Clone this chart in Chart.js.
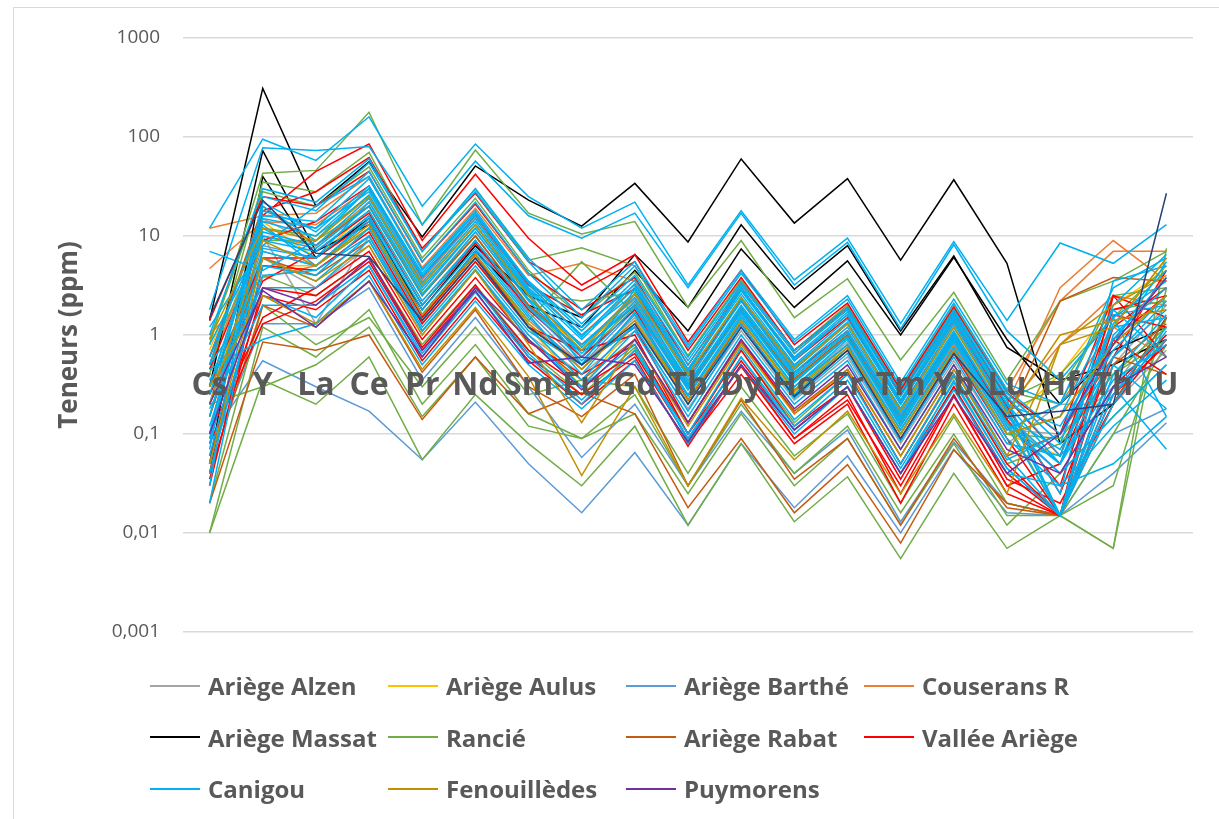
<!DOCTYPE html>
<html>
<head>
<meta charset="utf-8">
<script src="https://cdn.jsdelivr.net/npm/chart.js@4.4.1/dist/chart.umd.min.js"></script>
<style>
  body { margin: 0; background: #fff; width: 1219px; height: 819px; overflow: hidden; position: relative; font-family: "Open Sans", sans-serif; }
  #frame { position: absolute; left: 13px; top: 7px; width: 1230px; height: 840px; border: 1px solid #d9d9d9; box-sizing: border-box; }
  #c { position: absolute; left: 0; top: 0; }
  #legend { position: absolute; left: 150px; top: 660px; display: grid; grid-template-columns: repeat(4, 238px); }
  .item { display: flex; align-items: center; height: 51.5px; font-weight: 700; font-size: 24px; color: #595959; white-space: nowrap; }
  .sw { display: inline-block; width: 50px; height: 2px; margin-right: 8px; }
</style>
</head>
<body>
<div id="frame"></div>
<canvas id="c" width="1219" height="819"></canvas>
<div id="legend"></div>
<script>
// Éléments (axe X) et graduations (axe Y log)
const elements = ['Cs', 'Y', 'La', 'Ce', 'Pr', 'Nd', 'Sm', 'Eu', 'Gd', 'Tb', 'Dy', 'Ho', 'Er', 'Tm', 'Yb', 'Lu', 'Hf', 'Th', 'U'];
const yTicks = [0.001, 0.01, 0.1, 1, 10, 100, 1000];

// Teneurs (ppm) par secteur, un tableau par échantillon
const alzen = [
  [0.2, 6, 3, 8, 1, 4.5, 1, 0.4, 1.1, 0.18, 1.1, 0.22, 0.6, 0.08, 0.55, 0.08, 0.2, 0.2, 0.7],
  [0.1, 10, 1.3, 10, 1.3, 5.5, 1.3, 0.5, 1.5, 0.22, 1.5, 0.3, 0.85, 0.11, 0.8, 0.11, 0.1, 0.3, 1.5],
  [0.4, 15, 8, 20, 2.5, 10, 2, 0.8, 2.1, 0.3, 1.9, 0.38, 1.05, 0.14, 1, 0.14, 0.05, 0.5, 2]
];
const aulus = [
  [0.3, 5, 5, 12, 1.5, 6.5, 1.2, 0.3, 1.3, 0.2, 1.3, 0.26, 0.7, 0.1, 0.7, 0.1, 0.06, 1.2, 6],
  [0.7, 14, 6, 18, 2.2, 9, 1.8, 0.8, 1.9, 0.28, 1.8, 0.36, 1.0, 0.13, 0.95, 0.13, 0.4, 2, 4.5]
];
const barthe = [
  [0.09, 0.55, 0.3, 0.17, 0.055, 0.21, 0.05, 0.016, 0.065, 0.012, 0.08, 0.018, 0.06, 0.01, 0.07, 0.016, 0.015, 0.04, 0.13],
  [0.06, 1.3, 1.3, 3, 0.35, 1.5, 0.3, 0.058, 0.2, 0.03, 0.17, 0.04, 0.11, 0.013, 0.083, 0.02, 0.015, 0.1, 0.18],
  [0.15, 8, 6, 16, 2, 8, 1.7, 0.5, 1.8, 0.28, 1.7, 0.34, 0.95, 0.13, 0.9, 0.12, 0.04, 0.3, 1.0]
];
const couserans = [
  [12, 16, 17, 40, 4.8, 19, 4, 5.3, 3.5, 0.45, 3, 0.58, 1.6, 0.22, 1.6, 0.2, 3, 9, 3.5],
  [4.7, 14, 13, 30, 3.6, 15, 3.2, 1, 3, 0.42, 3.3, 0.65, 1.9, 0.28, 2, 0.28, 2.2, 7, 7],
  [1, 3.8, 5, 12, 1.4, 6, 1.4, 0.5, 1.4, 0.2, 1.4, 0.28, 0.8, 0.11, 0.8, 0.11, 0.2, 1.2, 0.6],
  [0.5, 10, 8, 22, 2.6, 11, 2.3, 0.8, 2.3, 0.34, 2.3, 0.46, 1.3, 0.18, 1.3, 0.18, 0.8, 2.5, 2]
];
const massat = [
  [1.4, 310, 20, 56, 9.8, 51, 23, 12.6, 34, 8.7, 60, 13.5, 38, 5.7, 37, 5.3, 0.08, 0.2, 1.5],
  [0.3, 73, 7, 13, 1.8, 8, 2.5, 1.5, 6.5, 1.9, 13, 2.9, 8, 1.1, 6.3, 0.75, 0.35, 0.5, 0.9],
  [0.05, 40, 6, 15, 1.6, 7, 2, 1.2, 4.5, 1.1, 7.4, 1.9, 5.6, 1.0, 6.1, 0.9, 0.2, 0.7, 1.2]
];
const rancie = [
  [0.8, 43, 46, 178, 13, 74, 17, 10.5, 14, 1.9, 9, 1.5, 3.7, 0.56, 2.7, 0.35, 2.2, 3.5, 7],
  [0.4, 35, 28, 70, 7, 30, 5.7, 7.6, 5, 0.6, 3.5, 0.7, 1.8, 0.25, 1.6, 0.22, 0.4, 1.5, 5],
  [0.01, 0.35, 0.2, 0.6, 0.055, 0.25, 0.08, 0.03, 0.12, 0.012, 0.08, 0.013, 0.037, 0.0055, 0.04, 0.007, 0.015, 0.007, 3],
  [0.01, 1.2, 0.6, 1.8, 0.2, 0.8, 0.16, 0.09, 0.25, 0.03, 0.2, 0.04, 0.12, 0.016, 0.1, 0.015, 0.015, 0.03, 1.5],
  [0.02, 2, 0.8, 1.5, 0.3, 1.2, 0.25, 0.35, 0.3, 0.04, 0.3, 0.06, 0.16, 0.02, 0.15, 0.02, 0.015, 0.007, 7.5],
  [0.3, 12, 10, 25, 3.2, 13, 2.6, 2.2, 2.7, 0.4, 2.4, 0.45, 1.3, 0.17, 1.2, 0.17, 0.3, 1.8, 2.2],
  [0.15, 7, 5, 12, 1.6, 6.5, 1.4, 5.5, 1.6, 0.22, 1.4, 0.28, 0.8, 0.1, 0.75, 0.1, 0.09, 0.4, 1.2],
  [0.9, 28, 20, 50, 6, 24, 4.5, 1.5, 4.3, 0.62, 3.6, 0.7, 2, 0.27, 1.9, 0.27, 0.2, 2.5, 3],
  [0.05, 4, 2.5, 6, 0.8, 3.2, 0.7, 0.25, 0.75, 0.1, 0.7, 0.13, 0.4, 0.05, 0.38, 0.05, 0.08, 0.4, 0.9],
  [0.2, 0.3, 0.5, 1.2, 0.15, 0.6, 0.12, 0.09, 0.16, 0.025, 0.16, 0.03, 0.09, 0.012, 0.08, 0.012, 0.04, 0.15, 0.5],
  [0.6, 9, 9, 20, 2.6, 10, 2, 0.6, 2, 0.3, 1.8, 0.35, 1, 0.13, 0.95, 0.13, 0.015, 0.1, 0.8]
];
const rabat = [
  [0.02, 0.85, 0.7, 1.0, 0.14, 0.6, 0.16, 0.26, 0.16, 0.018, 0.09, 0.016, 0.049, 0.0079, 0.069, 0.02, 0.015, 0.2, 1.5],
  [0.04, 2, 1.2, 3.5, 0.42, 1.8, 0.3, 0.15, 0.4, 0.03, 0.22, 0.035, 0.09, 0.012, 0.09, 0.018, 0.015, 0.5, 1.3],
  [0.5, 20, 8, 20, 2.5, 10, 2, 0.7, 2, 0.3, 1.8, 0.36, 1, 0.14, 1, 0.14, 2.2, 3.8, 3.5],
  [0.15, 6, 4, 9, 1.1, 4.5, 0.9, 0.35, 0.9, 0.13, 0.85, 0.17, 0.45, 0.06, 0.45, 0.06, 0.1, 0.6, 0.4]
];
const vallee = [
  [0.6, 16, 45, 85, 9, 42, 9.5, 3.2, 6.5, 0.85, 4.5, 0.8, 2.1, 0.28, 1.9, 0.26, 0.1, 2.5, 1.5],
  [0.04, 18, 28, 62, 7.5, 27, 5.5, 2.8, 5.5, 0.7, 3.8, 0.7, 1.9, 0.25, 1.7, 0.23, 0.06, 1.8, 2.5],
  [0.25, 3.5, 7, 17, 2, 8.5, 1.8, 0.6, 1.8, 0.22, 1.3, 0.24, 0.7, 0.09, 0.65, 0.09, 0.015, 0.3, 1],
  [0.1, 1.5, 3, 7, 0.9, 3.8, 0.85, 0.4, 0.8, 0.1, 0.55, 0.11, 0.3, 0.04, 0.3, 0.04, 0.015, 2.5, 0.6],
  [0.08, 1.3, 2.2, 5.5, 0.7, 3, 0.7, 0.3, 0.65, 0.09, 0.48, 0.09, 0.22, 0.03, 0.25, 0.03, 0.05, 0.9, 0.4],
  [0.45, 9, 14, 32, 3.8, 16, 3.2, 1.6, 2.9, 0.38, 2.2, 0.42, 1.1, 0.15, 1.0, 0.14, 0.03, 1.2, 3],
  [0.03, 5, 4.5, 11, 1.3, 5.5, 1.2, 0.5, 1.2, 0.13, 0.9, 0.16, 0.42, 0.05, 0.4, 0.05, 0.015, 1.6, 1.2],
  [1.4, 25, 20, 45, 5.5, 21, 4.2, 1.8, 3.8, 0.5, 3, 0.55, 1.5, 0.2, 1.4, 0.19, 0.025, 0.6, 4.5],
  [0.06, 2.5, 1.8, 4.5, 0.55, 2.4, 0.55, 0.2, 0.55, 0.08, 0.4, 0.08, 0.2, 0.02, 0.2, 0.025, 0.015, 0.25, 0.8],
  [0.035, 3, 2.5, 6, 0.75, 3.2, 0.6, 0.25, 0.6, 0.075, 0.5, 0.09, 0.25, 0.025, 0.24, 0.03, 0.015, 0.9, 2.5],
  [0.3, 6, 6, 14, 1.5, 6.5, 1.2, 0.7, 1.0, 0.1, 0.7, 0.12, 0.3, 0.035, 0.3, 0.035, 0.02, 0.2, 0.9]
];
const canigou = [
  [12, 95, 58, 160, 20, 85, 25, 12, 22, 3.2, 18, 3.6, 9.5, 1.3, 8.8, 1.4, 8.5, 5.3, 13],
  [1.8, 78, 73, 80, 13, 57, 16, 9.5, 17, 3.0, 17, 3.2, 8.6, 1.15, 8.2, 1.1, 0.35, 1.5, 3.5],
  [7, 4.5, 9, 30, 4, 16, 3.5, 1.2, 3.2, 0.45, 2.8, 0.55, 1.6, 0.2, 1.5, 0.2, 0.05, 0.6, 2.2],
  [0.5, 18, 12, 38, 4.6, 18, 3.4, 1.1, 3.6, 0.55, 3.2, 0.65, 1.8, 0.24, 1.7, 0.24, 0.06, 1.3, 4.5],
  [0.3, 14, 10, 30, 3.8, 15, 2.9, 0.9, 3.0, 0.45, 2.6, 0.5, 1.45, 0.2, 1.4, 0.2, 0.12, 0.9, 3.8],
  [0.15, 12, 6, 22, 2.8, 12, 2.5, 0.6, 2.6, 0.4, 2.3, 0.45, 1.3, 0.17, 1.2, 0.17, 0.015, 0.25, 1.2],
  [0.8, 9, 7, 18, 2.2, 9, 1.9, 0.7, 2.0, 0.3, 1.9, 0.38, 1.05, 0.14, 1.0, 0.13, 0.04, 0.15, 0.5],
  [0.06, 7, 5, 15, 1.8, 7.5, 1.6, 0.4, 1.7, 0.25, 1.6, 0.3, 0.9, 0.12, 0.85, 0.11, 0.2, 0.8, 5.5],
  [0.1, 20, 9, 26, 3.2, 13, 2.7, 0.5, 2.9, 0.42, 2.9, 0.6, 1.7, 0.22, 1.6, 0.22, 0.015, 0.4, 1.6],
  [0.04, 5, 4, 12, 1.4, 6, 1.2, 0.35, 1.3, 0.2, 1.3, 0.25, 0.75, 0.1, 0.7, 0.09, 0.03, 0.12, 0.35],
  [0.2, 16, 14, 45, 5.5, 22, 4.2, 1.3, 4.0, 0.6, 3.4, 0.7, 1.9, 0.26, 1.8, 0.26, 0.08, 2.0, 6.5],
  [0.5, 3, 3, 9, 1.1, 4.5, 1.0, 0.3, 1.1, 0.15, 1.0, 0.2, 0.55, 0.07, 0.5, 0.06, 0.015, 0.3, 0.07],
  [0.08, 11, 8, 24, 3.0, 12, 2.3, 0.8, 2.4, 0.35, 2.2, 0.42, 1.2, 0.16, 1.1, 0.15, 0.05, 1.5, 0.15],
  [0.35, 2.5, 1.5, 5, 0.6, 2.7, 0.6, 0.2, 0.7, 0.09, 0.6, 0.12, 0.35, 0.045, 0.33, 0.045, 0.015, 0.2, 1.1],
  [0.03, 25, 18, 55, 7, 28, 5.5, 1.5, 5, 0.75, 4.2, 0.85, 2.3, 0.3, 2.1, 0.28, 0.1, 0.7, 2.5],
  [1.2, 8, 20, 40, 4.5, 17, 3, 1.0, 2.6, 0.32, 1.8, 0.34, 0.95, 0.12, 0.9, 0.12, 0.015, 0.5, 0.18],
  [0.12, 6, 3.5, 10, 1.2, 5, 1.1, 0.5, 1.2, 0.17, 1.2, 0.23, 0.65, 0.085, 0.6, 0.08, 0.06, 0.25, 0.9],
  [0.25, 13, 5, 14, 1.6, 7, 1.5, 0.45, 1.6, 0.24, 1.5, 0.3, 0.8, 0.11, 0.75, 0.1, 0.15, 1.8, 0.6],
  [0.45, 0.9, 1.3, 4, 0.5, 2.2, 0.5, 0.18, 0.55, 0.08, 0.5, 0.1, 0.3, 0.04, 0.28, 0.04, 0.03, 0.05, 0.15],
  [0.07, 22, 11, 32, 4.2, 17, 3.3, 0.95, 3.3, 0.5, 3.0, 0.58, 1.6, 0.21, 1.5, 0.2, 0.025, 3.5, 5],
  [0.05, 4, 4.5, 10, 1.1, 4.6, 0.9, 0.3, 0.8, 0.085, 0.6, 0.11, 0.3, 0.04, 0.35, 0.045, 0.015, 1.6, 2],
  [0.09, 10, 7.5, 20, 2.5, 11, 2.2, 0.65, 2.2, 0.32, 2.0, 0.4, 1.1, 0.15, 1.05, 0.15, 0.07, 0.6, 1.8],
  [0.6, 15, 12, 28, 3.4, 14, 2.8, 0.75, 2.6, 0.38, 2.4, 0.48, 1.35, 0.18, 1.3, 0.18, 0.015, 1.0, 3],
  [0.02, 7.5, 6, 16, 2, 9, 1.9, 0.55, 1.9, 0.28, 1.7, 0.33, 0.95, 0.13, 0.95, 0.13, 0.05, 0.35, 0.8],
  [0.18, 2, 2, 5, 0.65, 3, 0.65, 0.22, 0.7, 0.1, 0.75, 0.14, 0.4, 0.05, 0.4, 0.055, 0.1, 1.2, 1.5],
  [1.0, 30, 22, 60, 7, 30, 6, 1.8, 5.5, 0.8, 4.5, 0.9, 2.5, 0.33, 2.3, 0.32, 0.2, 3, 6]
];
const fenouilledes = [
  [0.3, 2.5, 1.3, 3.5, 0.45, 1.9, 0.38, 0.038, 0.3, 0.03, 0.23, 0.055, 0.17, 0.025, 0.16, 0.025, 0.8, 1.2, 6],
  [0.05, 6, 3.5, 8, 1, 4.5, 0.8, 0.13, 0.9, 0.12, 0.8, 0.16, 0.45, 0.06, 0.45, 0.06, 0.8, 2, 4],
  [0.9, 12, 9, 25, 3.2, 13, 2.5, 0.7, 2.6, 0.4, 2.4, 0.46, 1.3, 0.17, 1.2, 0.16, 1.0, 1.4, 1.8],
  [0.2, 9, 5, 13, 1.6, 6.5, 1.3, 0.45, 1.4, 0.22, 1.4, 0.27, 0.75, 0.1, 0.7, 0.1, 0.15, 0.8, 2.5]
];
const puymorens = [
  [0.1, 3, 2, 6, 0.7, 2.8, 0.52, 0.6, 0.5, 0.083, 0.5, 0.11, 0.3, 0.04, 0.24, 0.04, 0.1, 0.8, 3.8],
  [0.2, 2.8, 1.2, 3.5, 0.6, 3, 0.9, 0.28, 0.9, 0.13, 0.9, 0.18, 0.5, 0.07, 0.5, 0.07, 0.04, 0.3, 0.6]
];
// série sans entrée de légende (trait bleu foncé)
const autres = [
  [1.5, 23, 6.7, 6.2, 1.4, 6, 1.2, 0.5, 1.3, 0.2, 1.2, 0.24, 0.7, 0.09, 0.65, 0.15, 0.17, 0.2, 27]
];

const groupNames = ['Ariège Alzen', 'Ariège Aulus', 'Ariège Barthé', 'Couserans R', 'Ariège Massat', 'Rancié',
  'Ariège Rabat', 'Vallée Ariège', 'Canigou', 'Fenouillèdes', 'Puymorens', ''];
const groupSeries = [alzen, aulus, barthe, couserans, massat, rancie, rabat, vallee, canigou, fenouilledes, puymorens, autres];
const groupColors = ['#a5a5a5', '#ffc000', '#5b9bd5', '#ed7d31', '#000000', '#70ad47',
  '#c55a11', '#ff0000', '#00b0f0', '#bf9000', '#7030a0', '#264478'];

const datasets = [];
groupSeries.forEach((samples, g) => {
  samples.forEach((vals, k) => {
    datasets.push({
      label: groupNames[g],
      data: vals,
      borderColor: groupColors[g],
      borderWidth: 1.5,
      pointRadius: 0,
      tension: 0,
      fill: false,
      inLegend: k === 0 && groupNames[g] !== ''
    });
  });
});
// les dernières séries par-dessus
datasets.forEach((d, i) => { d.order = -i; });

// étiquettes des éléments posées sur la ligne 1 ppm (axe croisant à 1)
const elementLabels = {
  id: 'elementLabels',
  afterDatasetsDraw(chart) {
    const { ctx, scales: { x, y } } = chart;
    const y1 = y.getPixelForValue(1);
    ctx.save();
    ctx.font = 'bold 32px "Open Sans"';
    ctx.fillStyle = '#595959';
    ctx.textAlign = 'center';
    ctx.textBaseline = 'alphabetic';
    elements.forEach((e, i) => ctx.fillText(e, x.getPixelForValue(i), y1 + 60));
    ctx.restore();
  }
};

new Chart(document.getElementById('c').getContext('2d'), {
  type: 'line',
  data: { labels: elements, datasets: datasets },
  options: {
    responsive: false,
    animation: false,
    layout: { padding: { left: 0, right: 26, top: 38, bottom: 187 } },
    plugins: { legend: { display: false }, tooltip: { enabled: false } },
    scales: {
      x: { type: 'category', offset: true, display: false },
      y: {
        type: 'logarithmic',
        min: 0.001,
        max: 1000,
        afterBuildTicks: s => { s.ticks = yTicks.map(v => ({ value: v })); },
        afterFit: s => { s.width = 183; },
        grid: { color: '#d9d9d9', lineWidth: 1.5, drawTicks: false },
        border: { display: false },
        ticks: {
          padding: 23,
          color: '#595959',
          font: { family: 'Open Sans', size: 19 },
          callback: v => String(v).replace('.', ',')
        },
        title: {
          display: true,
          text: 'Teneurs (ppm)',
          color: '#595959',
          font: { family: 'Open Sans', size: 26, weight: 'bold' },
          padding: { top: 54, bottom: 0 }
        }
      }
    }
  },
  plugins: [elementLabels]
});

// légende en grille comme dans Excel
const legend = document.getElementById('legend');
datasets.filter(d => d.inLegend).forEach(d => {
  const item = document.createElement('div');
  item.className = 'item';
  item.innerHTML = '<span class="sw" style="background:' + d.borderColor + '"></span>' + d.label;
  legend.appendChild(item);
});
</script>
</body>
</html>
